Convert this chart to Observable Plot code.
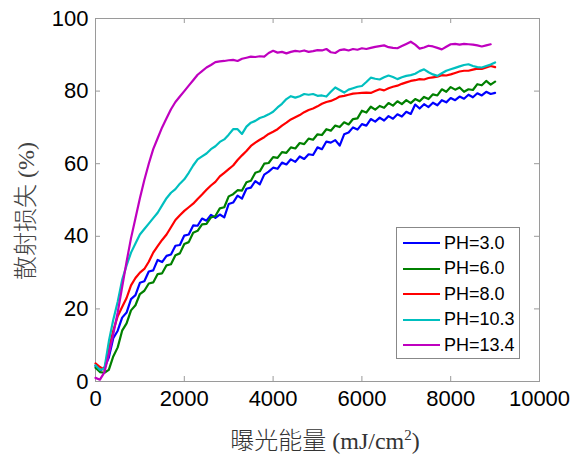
<!DOCTYPE html>
<html>
<head>
<meta charset="utf-8">
<script src="https://cdn.jsdelivr.net/npm/d3@7"></script>
<script src="https://cdn.jsdelivr.net/npm/@observablehq/plot@0.6"></script>
<style>
  html, body { margin: 0; padding: 0; background: #fff; }
  #wrap { position: relative; width: 574px; height: 458px; }
  #wrap svg { position: absolute; left: 0; top: 0; }
  .ytitle { position: absolute; left: 23px; top: 211px; transform: translate(-50%, -50%) rotate(-90deg);
    white-space: nowrap; font-family: "Liberation Serif", "Noto Sans CJK SC", serif; font-size: 24px; font-weight: 300; color: #444; }
  .xtitle { position: absolute; left: 325px; top: 438px; transform: translate(-50%, -50%);
    white-space: nowrap; font-family: "Liberation Serif", "Noto Sans CJK SC", serif; font-size: 24px; font-weight: 300; color: #333; }
  .xtitle sup { font-size: 15px; vertical-align: 9px; line-height: 0; }
  .legend { position: absolute; left: 396px; top: 227px; width: 124px; height: 132px;
    border: 1px solid #888; background: #fff; box-sizing: border-box;
    font-family: "Liberation Sans", Arial, sans-serif; font-size: 18px; color: #000; }
  .legend .row { position: absolute; left: 0; height: 20px; display: flex; align-items: center; }
  .legend .sw { width: 37px; height: 0; border-top: 2px solid; margin-left: 6px; margin-right: 4px; }
</style>
</head>
<body>
<div id="wrap"></div>
<script>
// ---- data ----
const seriesNames = ["PH=3.0", "PH=6.0", "PH=8.0", "PH=10.3", "PH=13.4"];
const seriesColors = ["#0000ff", "#008000", "#ff0000", "#00bfbf", "#bf00bf"];
const xTicks = [0, 2000, 4000, 6000, 8000, 10000];
const yTicks = [0, 20, 40, 60, 80, 100];
// exposure energy sampling grid (mJ/cm2), 0..9000 every 100
const energy = d3.range(0, 9001, 100);

const ph30 = [4.3,3.0,3.8,6.6,11.9,14.0,17.6,19.0,22.7,23.8,
  27.2,27.6,30.3,30.6,33.5,32.9,34.6,35.0,37.4,37.6,
  40.2,40.5,43.0,42.9,44.9,44.3,45.9,45.1,46.0,45.2,
  48.9,49.3,51.2,50.4,53.1,53.4,55.2,54.3,57.0,57.8,
  58.9,58.6,60.3,59.8,61.2,60.5,62.0,61.3,62.6,62.4,
  64.5,64.0,66.1,65.8,66.5,65.0,68.1,68.6,70.0,69.4,
  70.9,70.5,72.3,71.6,72.7,71.9,73.1,72.4,73.6,73.0,
  74.3,73.7,76.3,75.2,76.4,75.6,76.8,76.1,77.5,76.9,
  78.1,77.5,78.5,77.9,79.0,78.3,79.4,78.8,79.8,79.2,
  79.5];
const ph60 = [3.8,2.6,2.4,3.2,6.9,9.4,14.0,16.0,19.6,21.0,
  24.1,25.0,27.0,27.3,29.6,29.8,32.0,32.3,34.8,35.3,
  37.9,38.4,41.0,41.5,43.3,43.4,45.2,45.6,47.7,48.0,
  51.0,51.6,52.7,52.6,54.9,55.3,57.5,57.9,60.0,60.2,
  61.8,61.6,63.2,63.0,64.5,64.2,65.7,65.4,66.9,66.6,
  68.1,67.9,69.5,69.1,70.5,70.1,71.4,70.8,72.3,72.5,
  74.6,74.1,75.7,74.9,75.9,75.4,76.7,76.0,77.2,76.4,
  77.5,76.7,77.8,77.2,78.4,77.8,79.1,78.8,80.5,79.8,
  81.1,80.4,81.0,79.8,80.5,80.3,81.9,81.6,82.8,81.8,
  82.6];
const ph80 = [5.0,4.0,3.2,9.0,14.0,18.0,20.5,23.0,26.5,28.5,
  30.0,31.0,33.0,35.5,37.3,39.0,40.5,42.5,44.5,45.8,
  47.0,48.0,49.0,50.3,51.5,52.8,54.0,55.0,56.5,57.5,
  58.5,59.5,61.0,62.3,63.5,64.9,65.8,66.6,67.3,68.2,
  68.8,69.5,70.5,71.3,72.2,72.8,73.4,74.2,74.8,75.2,
  75.8,76.5,77.0,77.3,77.8,78.5,78.7,79.0,79.3,79.4,
  79.5,79.6,79.5,80.0,80.5,80.2,80.8,81.2,81.5,82.0,
  82.4,82.8,83.0,83.3,83.2,83.6,83.8,84.0,84.4,84.3,
  84.6,85.0,85.4,85.6,85.6,85.9,86.2,86.1,86.5,86.9,
  86.6];
const ph103 = [4.5,3.2,3.5,11.0,17.0,22.0,28.0,32.0,35.5,38.0,
  40.5,42.0,43.5,45.0,46.5,48.5,50.5,52.0,53.0,54.5,
  55.7,57.5,59.5,61.2,62.0,62.8,64.0,64.8,66.0,66.7,
  68.0,69.5,69.5,68.2,70.2,71.3,71.8,72.6,73.0,73.6,
  74.3,75.5,76.5,77.8,78.6,78.2,78.6,79.2,79.0,79.2,
  78.7,78.8,78.5,79.8,81.0,80.3,79.6,80.4,80.8,81.2,
  81.4,82.5,83.7,83.4,83.2,83.8,84.3,83.9,83.3,83.8,
  84.2,84.4,84.8,85.5,86.0,85.2,84.6,84.2,84.9,85.6,
  86.0,86.4,86.8,87.2,87.4,86.9,86.6,86.5,86.9,87.3,
  87.9];
const ph134 = [1.0,0.5,2.5,7.5,13.0,19.0,26.0,33.0,39.5,45.0,
  50.5,55.5,60.0,64.0,67.0,70.0,72.5,75.0,77.0,78.5,
  80.0,81.5,83.0,84.5,85.5,86.5,87.2,88.0,88.2,88.3,
  88.5,88.6,88.3,88.9,89.2,89.5,89.4,89.6,89.5,90.5,
  91.1,90.6,90.8,90.4,90.8,91.1,90.9,91.2,90.8,91.0,
  91.3,91.2,91.6,90.7,90.5,91.3,91.5,91.2,91.6,91.4,
  91.8,91.6,91.9,92.2,92.4,92.6,92.1,91.9,91.8,92.4,
  93.0,93.6,92.8,91.7,92.0,92.5,92.3,91.9,91.5,92.2,
  92.9,93.0,92.8,93.0,92.9,92.8,92.6,92.3,92.6,92.9,
  null];

const seriesValues = [ph30, ph60, ph80, ph103, ph134];

// ---- build table ----
const rows = [];
seriesValues.forEach((vals, s) => {
  vals.forEach((v, i) => rows.push({energy: energy[i], loss: v, ph: seriesNames[s]}));
});

const frameStroke = "#9a9a9a";
const chart = Plot.plot({
  width: 574,
  height: 458,
  marginLeft: 95,
  marginRight: 35,
  marginTop: 18,
  marginBottom: 77,
  x: {domain: [0, 10000], label: null},
  y: {domain: [0, 100], label: null},
  color: {domain: seriesNames, range: seriesColors},
  style: {fontFamily: "'Liberation Sans', Arial, sans-serif", fontSize: "22px", color: "#000", background: "transparent", overflow: "visible"},
  marks: [
    Plot.ruleX(xTicks, {x: d => d, stroke: frameStroke, insetTop: 358}),
    Plot.ruleX(xTicks, {x: d => d, stroke: frameStroke, insetBottom: 358}),
    Plot.ruleY(yTicks, {y: d => d, stroke: frameStroke, insetRight: 439}),
    Plot.ruleY(yTicks, {y: d => d, stroke: frameStroke, insetLeft: 439}),
    Plot.frame({stroke: frameStroke}),
    Plot.axisX(xTicks, {anchor: "bottom", tickSize: 0, tickPadding: 9, tickFormat: d => String(d), label: null}),
    Plot.axisY(yTicks, {anchor: "left", tickSize: 0, tickPadding: 7, tickFormat: d => String(d), label: null}),
    Plot.lineY(rows, {x: "energy", y: "loss", z: "ph", stroke: "ph", strokeWidth: 2.2, strokeLinejoin: "round"})
  ]
});

const wrap = document.getElementById("wrap");
wrap.appendChild(chart);

const yt = document.createElement("div");
yt.className = "ytitle";
yt.textContent = "散射损失 (%)";
wrap.appendChild(yt);

const xt = document.createElement("div");
xt.className = "xtitle";
xt.innerHTML = "曝光能量 (mJ/cm<sup>2</sup>)";
wrap.appendChild(xt);

const lg = document.createElement("div");
lg.className = "legend";
seriesNames.forEach((name, i) => {
  const r = document.createElement("div");
  r.className = "row";
  r.style.top = (5 + i * 25.6) + "px";
  const sw = document.createElement("div");
  sw.className = "sw";
  sw.style.borderTopColor = seriesColors[i];
  const t = document.createElement("span");
  t.textContent = name;
  r.appendChild(sw);
  r.appendChild(t);
  lg.appendChild(r);
});
wrap.appendChild(lg);
</script>
</body>
</html>
